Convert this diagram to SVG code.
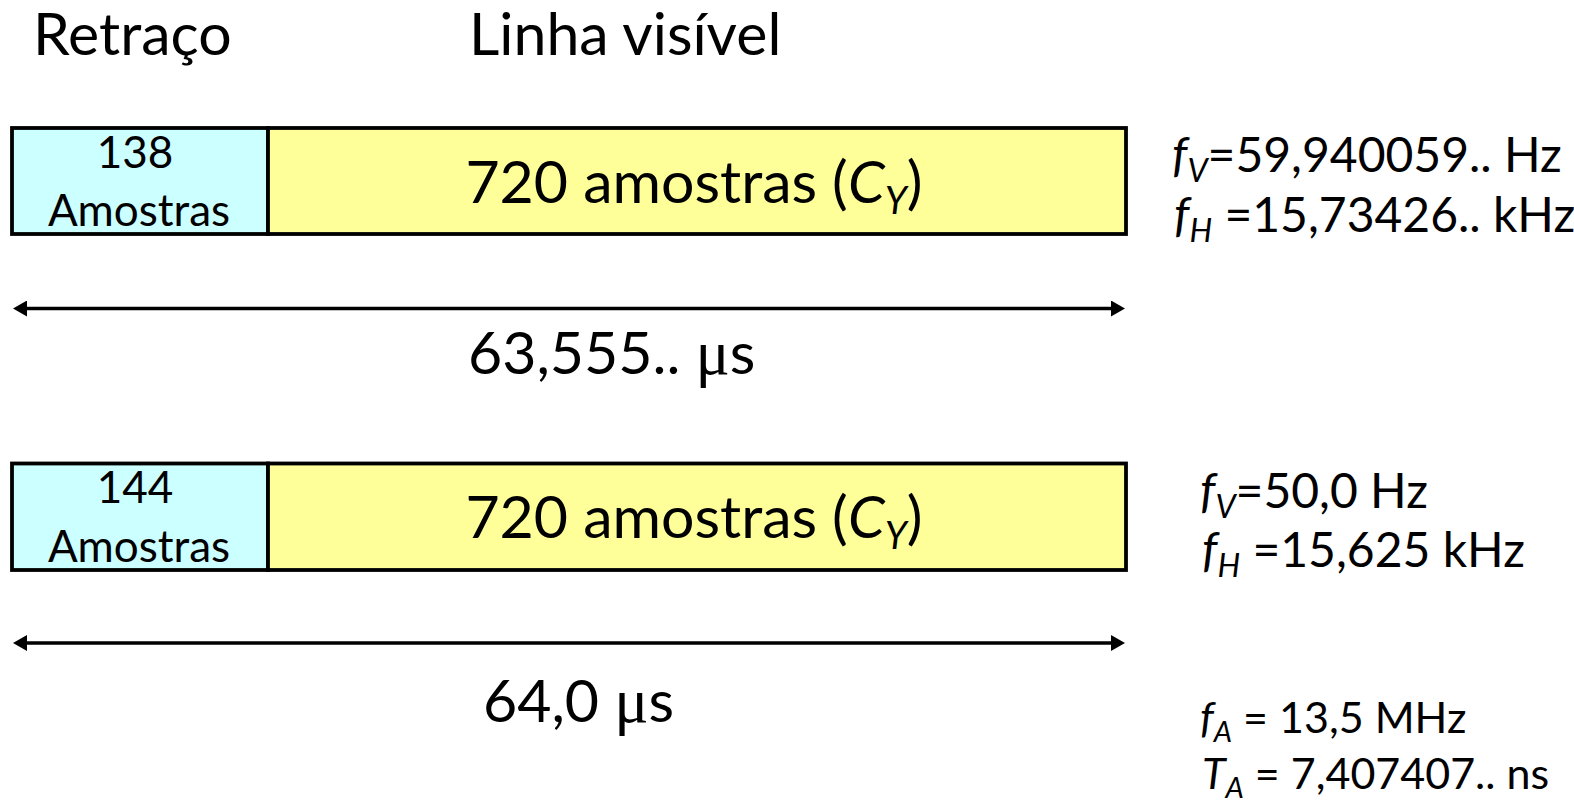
<svg xmlns="http://www.w3.org/2000/svg" width="1574" height="803" viewBox="0 0 1574 803">
<style>
text { font-family: Lato, "Liberation Sans", sans-serif; fill: #000; }
.big { font-size: 59px; }
.box { font-size: 44px; text-anchor: middle; }
.mid { font-size: 59px; text-anchor: middle; }
.side { font-size: 48px; }
.small { font-size: 43px; }
.it { font-style: italic; }
.sub { font-size: 32px; }
.sub2 { font-size: 29px; }
.subb { font-size: 38px; }
.mu { font-family: "Liberation Serif", serif; }
.cyan { fill: #ccffff; stroke: #000; stroke-width: 3.8; }
.yellow { fill: #ffff99; stroke: #000; stroke-width: 3.8; }
.arrow { stroke: #000; stroke-width: 3.5; fill: none; marker-start: url(#ah); marker-end: url(#ah); }
</style>
<defs>
<marker id="ah" viewBox="0 0 14 16" refX="0" refY="8" markerWidth="14" markerHeight="16" markerUnits="userSpaceOnUse" orient="auto-start-reverse">
<path d="M0,0 L14,8 L0,16 z" fill="#000"/>
</marker>
</defs>
<rect width="1574" height="803" fill="#fff"/>
<g id="titles">
<text class="big" x="33" y="55">Retraço</text>
<text class="big" x="469" y="55">Linha visível</text>
</g>
<g id="row1-retrace">
<rect class="cyan" x="12" y="128" width="256" height="106"/>
<text class="box" x="135" y="168">138</text>
<text class="box" x="139" y="226">Amostras</text>
</g>
<g id="row1-visible">
<rect class="yellow" x="268" y="128" width="858" height="106"/>
<text class="mid" x="694" y="203">720 amostras (<tspan class="it">C</tspan><tspan class="it subb" dy="11">Y</tspan><tspan dy="-11">)</tspan></text>
</g>
<g id="row2-retrace">
<rect class="cyan" x="12" y="463.5" width="256" height="106.5"/>
<text class="box" x="135" y="503">144</text>
<text class="box" x="139" y="562">Amostras</text>
</g>
<g id="row2-visible">
<rect class="yellow" x="268" y="463.5" width="858" height="106.5"/>
<text class="mid" x="694" y="538">720 amostras (<tspan class="it">C</tspan><tspan class="it subb" dy="11">Y</tspan><tspan dy="-11">)</tspan></text>
</g>
<g id="connectors">
<line class="arrow" x1="27" y1="308.5" x2="1111" y2="308.5"/>
<line class="arrow" x1="27" y1="643" x2="1111" y2="643"/>
</g>
<g id="durations">
<text class="big" x="468" y="374">63,555.. <tspan class="mu" font-size="64">μ</tspan>s</text>
<text class="big" x="483" y="722">64,0 <tspan class="mu" font-size="64">μ</tspan>s</text>
</g>
<g id="freq1">
<text class="side" x="1172" y="172"><tspan class="it">f</tspan><tspan class="it sub" dy="10">V</tspan><tspan dy="-10">=59,940059.. Hz</tspan></text>
<text class="side" x="1174" y="232"><tspan class="it">f</tspan><tspan class="it sub" dy="10">H</tspan><tspan dy="-10"> =15,73426.. kHz</tspan></text>
</g>
<g id="freq2">
<text class="side" x="1200" y="508"><tspan class="it">f</tspan><tspan class="it sub" dy="10">V</tspan><tspan dy="-10">=50,0 Hz</tspan></text>
<text class="side" x="1202" y="567"><tspan class="it">f</tspan><tspan class="it sub" dy="10">H</tspan><tspan dy="-10"> =15,625 kHz</tspan></text>
</g>
<g id="sampling">
<text class="small" x="1200" y="733"><tspan class="it">f</tspan><tspan class="it sub2" dy="9">A</tspan><tspan dy="-9"> = 13,5 MHz</tspan></text>
<text class="small" x="1202" y="789"><tspan class="it">T</tspan><tspan class="it sub2" dy="9">A</tspan><tspan dy="-9"> = 7,407407.. ns</tspan></text>
</g>
</svg>
